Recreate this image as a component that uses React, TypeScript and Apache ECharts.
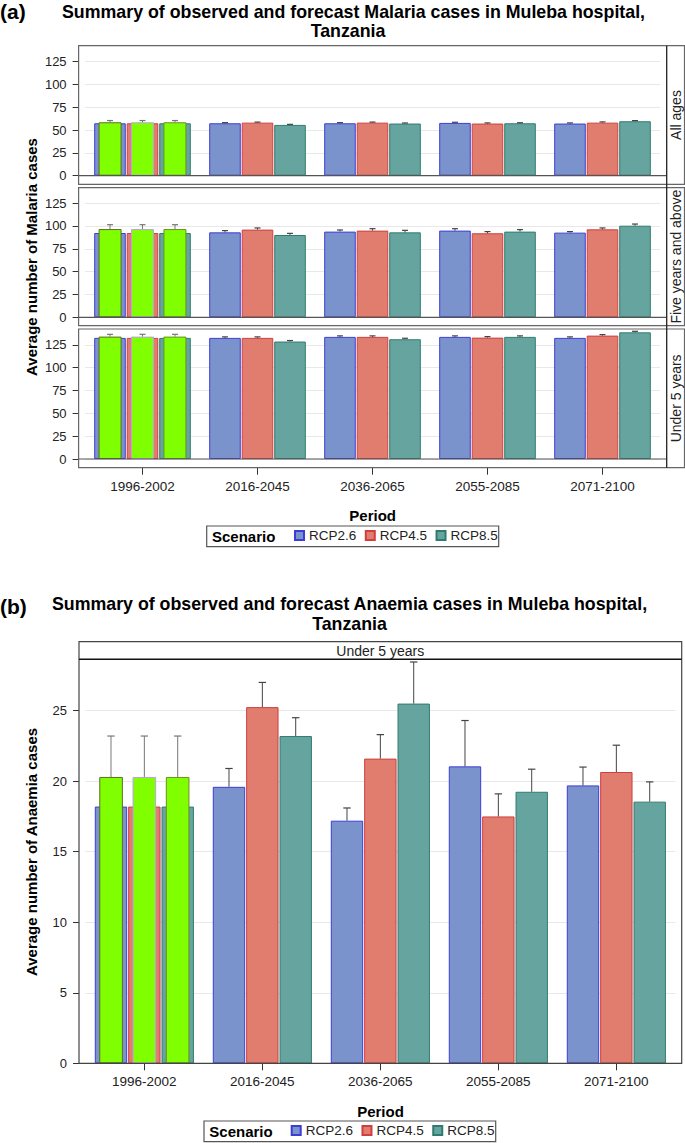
import React, { useEffect, useRef } from "react";
import * as echarts from "echarts";

// ---------- data ----------
const categories = ["1996-2002", "2016-2045", "2036-2065", "2055-2085", "2071-2100"];
const scenarioNames = ["RCP2.6", "RCP4.5", "RCP8.5"];

// Malaria, All ages
const allAgesRcp26 = [57.4, 57.4, 57.4, 57.8, 57.1];
const allAgesRcp45 = [57.4, 58.1, 58.1, 57.1, 58.1];
const allAgesRcp85 = [57.4, 55.6, 57.1, 57.4, 59.6];
const allAgesRcp26Upper = [null, 58.1, 58.1, 58.5, 57.8];
const allAgesRcp45Upper = [null, 58.7, 58.7, 57.8, 58.9];
const allAgesRcp85Upper = [null, 56.2, 57.7, 58.0, 60.3];
const allAgesObserved = 58.5;
const allAgesObservedUpper = 60.4;

// Malaria, Five years and above
const fiveUpRcp26 = [92.3, 93.0, 93.8, 94.9, 92.7];
const fiveUpRcp45 = [92.3, 96.0, 94.9, 92.0, 96.3];
const fiveUpRcp85 = [92.3, 90.1, 93.0, 93.8, 100.3];
const fiveUpRcp26Upper = [null, 94.9, 95.6, 97.0, 93.8];
const fiveUpRcp45Upper = [null, 97.8, 97.0, 93.8, 97.8];
const fiveUpRcp85Upper = [null, 91.9, 95.2, 96.0, 102.1];
const fiveUpObserved = 96.6;
const fiveUpObservedUpper = 101.4;

// Malaria, Under 5 years
const under5Rcp26 = [132.6, 132.6, 133.7, 133.7, 132.6];
const under5Rcp45 = [132.6, 132.6, 133.7, 132.9, 135.1];
const under5Rcp85 = [132.6, 128.6, 131.1, 133.7, 138.7];
const under5Rcp26Upper = [null, 133.7, 134.8, 134.8, 133.7];
const under5Rcp45Upper = [null, 133.7, 134.8, 134.0, 136.2];
const under5Rcp85Upper = [null, 129.7, 132.2, 134.8, 139.8];
const under5Observed = 134.0;
const under5ObservedUpper = 136.5;

// Anaemia, Under 5 years
const anaemiaRcp26 = [18.2, 19.6, 17.2, 21.05, 19.7];
const anaemiaRcp45 = [18.2, 25.25, 21.6, 17.5, 20.65];
const anaemiaRcp85 = [18.2, 23.2, 25.5, 19.25, 18.55];
const anaemiaRcp26Upper = [null, 20.9, 18.1, 24.3, 21.0];
const anaemiaRcp45Upper = [null, 27.0, 23.3, 19.1, 22.55];
const anaemiaRcp85Upper = [null, 24.5, 28.45, 20.85, 19.95];
const anaemiaObserved = 20.3;
const anaemiaObservedUpper = 23.2;

const malariaTicks = [0, 25, 50, 75, 100, 125];
const anaemiaTicks = [0, 5, 10, 15, 20, 25];

// ---------- styles ----------
const FONT = "'Liberation Sans', Arial, Helvetica, sans-serif";
const fills = ["#7b93cc", "#e07d6e", "#66a59f"];
const borders = ["#3d3dd6", "#cf3f3f", "#2f7c6e"];
const greenFill = "#80ff00";
const greenBorders = ["#5b6e1f", "#b9a2e2", "#6b8e23"];
const MAIN_W = 0.2745;
const MAIN_GAP = 0.03;

type Panel = {
  values: number[][];
  uppers: (number | null)[][];
  observed: number;
  observedUpper: number;
  grid: { left: number; top: number; width: number; height: number };
  yMax: number;
  ticks: number[];
  yOffset: number;
  showX: boolean;
  xOffset: number;
  labelMargin: number;
};

export default function App() {
  const ref = useRef<HTMLDivElement>(null);

  useEffect(() => {
    if (!ref.current) return;
    const chart = echarts.init(ref.current, undefined, { renderer: "svg" });

    const aH = 129.7;
    const panels: Panel[] = [
      {
        values: [allAgesRcp26, allAgesRcp45, allAgesRcp85],
        uppers: [allAgesRcp26Upper, allAgesRcp45Upper, allAgesRcp85Upper],
        observed: allAgesObserved, observedUpper: allAgesObservedUpper,
        grid: { left: 85, top: 46, width: 575, height: aH },
        yMax: 142, ticks: malariaTicks, yOffset: 6.4, showX: false, xOffset: 0, labelMargin: 13,
      },
      {
        values: [fiveUpRcp26, fiveUpRcp45, fiveUpRcp85],
        uppers: [fiveUpRcp26Upper, fiveUpRcp45Upper, fiveUpRcp85Upper],
        observed: fiveUpObserved, observedUpper: fiveUpObservedUpper,
        grid: { left: 85, top: 187.6, width: 575, height: aH },
        yMax: 142, ticks: malariaTicks, yOffset: 6.4, showX: false, xOffset: 0, labelMargin: 13,
      },
      {
        values: [under5Rcp26, under5Rcp45, under5Rcp85],
        uppers: [under5Rcp26Upper, under5Rcp45Upper, under5Rcp85Upper],
        observed: under5Observed, observedUpper: under5ObservedUpper,
        grid: { left: 85, top: 329.3, width: 575, height: aH },
        yMax: 142, ticks: malariaTicks, yOffset: 6.4, showX: true, xOffset: 8.7, labelMargin: 12,
      },
      {
        values: [anaemiaRcp26, anaemiaRcp45, anaemiaRcp85],
        uppers: [anaemiaRcp26Upper, anaemiaRcp45Upper, anaemiaRcp85Upper],
        observed: anaemiaObserved, observedUpper: anaemiaObservedUpper,
        grid: { left: 85.35, top: 659.3, width: 590, height: 404 },
        yMax: 28.64, ticks: anaemiaTicks, yOffset: 6.35, showX: true, xOffset: 0, labelMargin: 11.5,
      },
    ];

    const grid: any[] = [];
    const xAxis: any[] = [];
    const yAxis: any[] = [];
    const series: any[] = [];

    panels.forEach((p, g) => {
      grid.push({ ...p.grid, containLabel: false });
      xAxis.push({
        type: "category", gridIndex: g, data: categories,
        axisLine: { show: false }, axisTick: { show: false }, axisLabel: { show: false },
        splitLine: { show: false },
      });
      xAxis.push({
        type: "category", gridIndex: g, data: categories, position: "bottom", offset: p.xOffset,
        axisLine: { show: false },
        axisTick: { show: p.showX, alignWithLabel: true, length: 7, lineStyle: { color: "#333", width: 1 } },
        axisLabel: { show: p.showX, fontSize: 13.5, color: "#222", fontFamily: FONT, margin: p.labelMargin },
        splitLine: { show: false },
      });
      const step = p.ticks[1] - p.ticks[0];
      yAxis.push({
        type: "value", gridIndex: g, min: 0, max: p.yMax, interval: step, position: "left", offset: p.yOffset,
        axisLine: { show: false },
        axisTick: { show: true, length: 6, customValues: p.ticks, lineStyle: { color: "#333" } },
        axisLabel: {
          customValues: p.ticks, fontSize: 13, color: "#222", fontFamily: FONT, margin: 12,
          formatter: (v: number) => (p.ticks.indexOf(v) >= 0 ? String(v) : ""),
        },
        splitLine: { show: true, lineStyle: { color: "#e8e8e8", width: 1 } },
      });

      // scenario bars
      p.values.forEach((vals, s) => {
        series.push({
          name: scenarioNames[s], type: "bar", xAxisIndex: 2 * g, yAxisIndex: g,
          data: vals, barWidth: (MAIN_W * 100).toFixed(2) + "%", barGap: MAIN_GAP * 100 + "%",
          itemStyle: { color: fills[s], borderColor: borders[s], borderWidth: 1 },
          z: 2, silent: true,
        });
      });
      // observed (green) bars
      [0, 1, 2].forEach((s) => {
        series.push({
          name: "Observed", type: "bar", xAxisIndex: 2 * g + 1, yAxisIndex: g,
          data: [p.observed, "-", "-", "-", "-"], barWidth: "20%", barGap: "41%",
          itemStyle: { color: greenFill, borderColor: greenBorders[s], borderWidth: 1 },
          z: 3, silent: true,
        });
      });
      // error bars (upper)
      p.values.forEach((vals, s) => {
        const data: number[][] = [];
        vals.forEach((v, i) => {
          if (i === 0) data.push([0, p.observed, p.observedUpper]);
          else if (p.uppers[s][i] != null) data.push([i, v, p.uppers[s][i] as number]);
        });
        series.push({
          name: "err" + g + s, type: "custom", xAxisIndex: 2 * g, yAxisIndex: g, z: 4, silent: true,
          data,
          renderItem: (params: any, api: any) => {
            const cat = api.value(0);
            const lo = api.value(1);
            const hi = api.value(2);
            const band = api.size([1, 0])[0];
            const off = (s - 1) * band * MAIN_W * (1 + MAIN_GAP);
            const pLo = api.coord([cat, lo]);
            const pHi = api.coord([cat, hi]);
            const x = pLo[0] + off;
            const hw = g === 3 ? 3.7 : 3;
            const col = cat === 0 ? "#777" : "#444";
            return {
              type: "group",
              children: [
                { type: "line", shape: { x1: x, y1: pLo[1], x2: x, y2: pHi[1] }, style: { stroke: col, lineWidth: 1 } },
                { type: "line", shape: { x1: x - hw, y1: pHi[1], x2: x + hw, y2: pHi[1] }, style: { stroke: col, lineWidth: 1.2 } },
              ],
            };
          },
        });
      });
    });

    // frames & texts
    const graphic: any[] = [];
    const frameStroke = "#666";
    const aLeft = 78.6, aRight = 666.7, stripRight = 684.5;
    const aPanels = [
      { top: 45.7, bottom: 184.3, label: "All ages" },
      { top: 187.7, bottom: 325.7, label: "Five years and above" },
      { top: 329.0, bottom: 467.7, label: "Under 5 years" },
    ];
    aPanels.forEach((fp, i) => {
      graphic.push({
        type: "rect", shape: { x: aLeft, y: fp.top, width: stripRight - aLeft, height: fp.bottom - fp.top },
        style: { fill: "none", stroke: frameStroke, lineWidth: 1.2 }, silent: true, z: 10,
      });
      const zeroY = panels[i].grid.top + panels[i].grid.height;
      graphic.push({
        type: "line", shape: { x1: aLeft, y1: zeroY, x2: aRight, y2: zeroY },
        style: { stroke: "#555", lineWidth: 1.2 }, silent: true, z: 10,
      });
      graphic.push({
        type: "text", x: (aRight + stripRight) / 2 + 0.5, y: (fp.top + fp.bottom) / 2, rotation: Math.PI / 2,
        style: { text: fp.label, font: `14px ${FONT}`, fill: "#222", align: "center", verticalAlign: "middle" },
        silent: true, z: 10,
      });
    });
    graphic.push({
      type: "line", shape: { x1: aRight, y1: 45.7, x2: aRight, y2: 467.7 },
      style: { stroke: "#222", lineWidth: 1.3 }, silent: true, z: 11,
    });

    // panel b frame
    graphic.push({
      type: "rect", shape: { x: 79, y: 641.7, width: 681.7 - 79, height: 1063.3 - 641.7 },
      style: { fill: "none", stroke: "#444", lineWidth: 1.2 }, silent: true, z: 10,
    });
    graphic.push({
      type: "line", shape: { x1: 79, y1: 659.3, x2: 681.7, y2: 659.3 },
      style: { stroke: "#111", lineWidth: 1.6 }, silent: true, z: 10,
    });
    graphic.push({
      type: "text", x: 380.3, y: 650.8,
      style: { text: "Under 5 years", font: `14px ${FONT}`, fill: "#222", align: "center", verticalAlign: "middle" },
      silent: true, z: 10,
    });

    // titles
    const titleFont = `bold 17.8px ${FONT}`;
    graphic.push(
      { type: "text", x: 0, y: 11.5, style: { text: "(a)", font: `bold 21px ${FONT}`, fill: "#000", align: "left", verticalAlign: "middle" }, silent: true },
      { type: "text", x: 353.5, y: 11.5, style: { text: "Summary of observed and forecast Malaria cases in Muleba hospital,", font: titleFont, fill: "#000", align: "center", verticalAlign: "middle" }, silent: true },
      { type: "text", x: 348, y: 31, style: { text: "Tanzania", font: titleFont, fill: "#000", align: "center", verticalAlign: "middle" }, silent: true },
      { type: "text", x: 0, y: 606, style: { text: "(b)", font: `bold 21px ${FONT}`, fill: "#000", align: "left", verticalAlign: "middle" }, silent: true },
      { type: "text", x: 349.5, y: 604, style: { text: "Summary of observed and forecast Anaemia cases in Muleba hospital,", font: titleFont, fill: "#000", align: "center", verticalAlign: "middle" }, silent: true },
      { type: "text", x: 349.5, y: 624, style: { text: "Tanzania", font: titleFont, fill: "#000", align: "center", verticalAlign: "middle" }, silent: true },
    );
    // axis titles
    graphic.push(
      { type: "text", x: 31, y: 257, rotation: Math.PI / 2, style: { text: "Average number of Malaria cases", font: `bold 15px ${FONT}`, fill: "#000", align: "center", verticalAlign: "middle" }, silent: true },
      { type: "text", x: 31, y: 852, rotation: Math.PI / 2, style: { text: "Average number of Anaemia cases", font: `bold 15px ${FONT}`, fill: "#000", align: "center", verticalAlign: "middle" }, silent: true },
      { type: "text", x: 372.7, y: 515.5, style: { text: "Period", font: `bold 15px ${FONT}`, fill: "#000", align: "center", verticalAlign: "middle" }, silent: true },
      { type: "text", x: 380.5, y: 1111.7, style: { text: "Period", font: `bold 15px ${FONT}`, fill: "#000", align: "center", verticalAlign: "middle" }, silent: true },
    );
    // legend boxes
    const legendBoxes = [
      { x: 206.7, y: 526, w: 292, h: 20.7 },
      { x: 204, y: 1121, w: 291.7, h: 20.7 },
    ];
    legendBoxes.forEach((b) => {
      graphic.push({
        type: "rect", shape: { x: b.x, y: b.y, width: b.w, height: b.h },
        style: { fill: "none", stroke: "#555", lineWidth: 1.2 }, silent: true,
      });
      graphic.push({
        type: "text", x: b.x + 5.3, y: b.y + b.h / 2 + 0.5,
        style: { text: "Scenario", font: `bold 15px ${FONT}`, fill: "#000", align: "left", verticalAlign: "middle" }, silent: true,
      });
    });

    const legendCommon = {
      data: scenarioNames, orient: "horizontal", icon: "rect", itemWidth: 9, itemHeight: 9, itemGap: 8.5,
      padding: 0, selectedMode: false,
      textStyle: { fontSize: 13.5, color: "#222", fontFamily: FONT, padding: [0, 0, 0, 0] },
    };

    chart.setOption({
      animation: false,
      backgroundColor: "#fff",
      textStyle: { fontFamily: FONT },
      grid, xAxis, yAxis, series, graphic,
      legend: [
        { ...legendCommon, left: 294, top: 528.5 },
        { ...legendCommon, left: 290.7, top: 1123.5 },
      ],
    });

    return () => chart.dispose();
  }, []);

  return (
    <div
      ref={ref}
      style={{ position: "absolute", left: 0, top: 0, width: 685, height: 1143, background: "#fff" }}
    />
  );
}
